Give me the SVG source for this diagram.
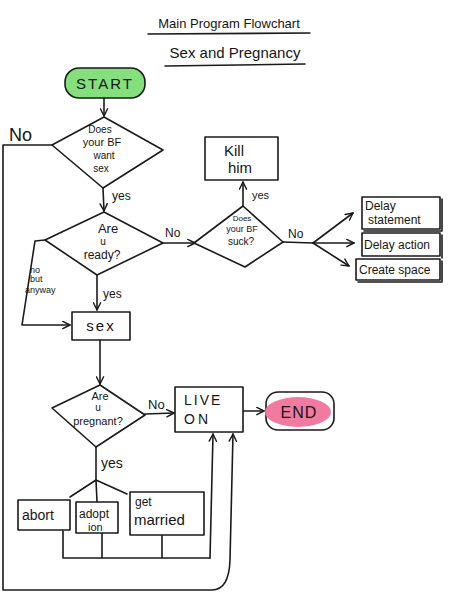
<svg xmlns="http://www.w3.org/2000/svg" width="449" height="606" viewBox="0 0 449 606">
<style>
  .ln { fill: none; stroke: #1a1a1a; stroke-width: 1.6; stroke-linejoin: round; stroke-linecap: round; }
  .box { fill: #ffffff; stroke: #1a1a1a; stroke-width: 1.6; stroke-linejoin: round; }
  .t { font-family: "Liberation Sans", "DejaVu Sans", sans-serif; fill: #151515; }
  .c { text-anchor: middle; }
</style>
<defs>
  <marker id="arr" viewBox="0 0 10 10" refX="9" refY="5" markerWidth="9" markerHeight="9" orient="auto-start-reverse" markerUnits="userSpaceOnUse">
    <path d="M1,1 L9,5 L1,9" fill="none" stroke="#1a1a1a" stroke-width="1.6" stroke-linecap="round" stroke-linejoin="round"/>
  </marker>
</defs>
<rect width="449" height="606" fill="#ffffff"/>

<g id="title">
  <text class="t c" x="229" y="28" font-size="13">Main Program Flowchart</text>
  <line class="ln" x1="148" y1="34" x2="310" y2="33"/>
  <text class="t c" x="235" y="58" font-size="15">Sex and Pregnancy</text>
  <line class="ln" x1="165" y1="66" x2="305" y2="64"/>
</g>

<g id="connectors">
  <line class="ln" x1="104" y1="98" x2="104" y2="116" marker-end="url(#arr)"/>
  <path class="ln" d="M52,145 L3,145 L3,590 L212,590 Q229,590 230,560 L233,434" marker-end="url(#arr)"/>
  <line class="ln" x1="103" y1="188" x2="104" y2="211" marker-end="url(#arr)"/>
  <line class="ln" x1="163" y1="243" x2="195" y2="243" marker-end="url(#arr)"/>
  <path class="ln" d="M45,240 L35,241 L22,325 L70,325" marker-end="url(#arr)"/>
  <line class="ln" x1="97" y1="275" x2="97" y2="310" marker-end="url(#arr)"/>
  <line class="ln" x1="100" y1="340" x2="100" y2="384" marker-end="url(#arr)"/>
  <line class="ln" x1="243" y1="206" x2="243" y2="182" marker-end="url(#arr)"/>
  <line class="ln" x1="283" y1="242" x2="313" y2="243"/>
  <line class="ln" x1="313" y1="243" x2="353" y2="213" marker-end="url(#arr)"/>
  <line class="ln" x1="313" y1="243" x2="354" y2="243" marker-end="url(#arr)"/>
  <line class="ln" x1="313" y1="243" x2="349" y2="266" marker-end="url(#arr)"/>
  <line class="ln" x1="145" y1="414" x2="174" y2="413" marker-end="url(#arr)"/>
  <line class="ln" x1="243" y1="411" x2="264" y2="411" marker-end="url(#arr)"/>
  <line class="ln" x1="96" y1="447" x2="96" y2="480"/>
  <path class="ln" d="M96,480 L70,497 M96,480 L97,502 M96,480 L127,494"/>
  <path class="ln" d="M63,531 L63,558 M102,533 L102,558 M162,535 L162,558 M63,558 L210,558"/>
  <path class="ln" d="M210,558 L213,434" marker-end="url(#arr)"/>
</g>

<g id="labels">
  <text class="t" x="9" y="141" font-size="18">No</text>
  <text class="t" x="112" y="200" font-size="12">yes</text>
  <text class="t" x="165" y="237" font-size="12">No</text>
  <text class="t" x="30" y="273" font-size="9">no</text>
  <text class="t" x="30" y="282" font-size="9">but</text>
  <text class="t" x="25" y="293" font-size="9">anyway</text>
  <text class="t" x="103" y="298" font-size="12">yes</text>
  <text class="t" x="252" y="199" font-size="11">yes</text>
  <text class="t" x="288" y="238" font-size="12">No</text>
  <text class="t" x="148" y="409" font-size="13">No</text>
  <text class="t" x="101" y="468" font-size="14">yes</text>
</g>

<g id="start">
  <rect x="65" y="68" width="80" height="30" rx="14" fill="#84e07c" stroke="#1a1a1a" stroke-width="1.6"/>
  <text class="t c" x="105" y="89" font-size="15" letter-spacing="2">START</text>
</g>

<g id="q-bf-want">
  <polygon class="box" points="104,117 163,150 103,188 52,145"/>
  <text class="t c" x="100" y="133" font-size="10">Does</text>
  <text class="t c" x="102" y="146" font-size="11">your BF</text>
  <text class="t c" x="104" y="159" font-size="10">want</text>
  <text class="t c" x="101" y="172" font-size="10">sex</text>
</g>

<g id="q-ready">
  <polygon class="box" points="104,212 163,243 97,275 45,240"/>
  <text class="t c" x="108" y="233" font-size="13">Are</text>
  <text class="t c" x="103" y="245" font-size="10">u</text>
  <text class="t c" x="102" y="259" font-size="12">ready?</text>
</g>

<g id="q-bf-suck">
  <polygon class="box" points="243,206 283,242 245,267 194,243"/>
  <text class="t c" x="242" y="221" font-size="8">Does</text>
  <text class="t c" x="242" y="232" font-size="9">your BF</text>
  <text class="t c" x="241" y="245" font-size="10">suck?</text>
</g>

<g id="kill-him">
  <rect class="box" x="205" y="137" width="73" height="43"/>
  <text class="t c" x="234" y="156" font-size="15">Kill</text>
  <text class="t c" x="240" y="173" font-size="15">him</text>
</g>

<g id="delay-statement">
  <rect class="box" x="362" y="197" width="78" height="32"/>
  <path class="ln" d="M442,199 L442,231 L364,231"/>
  <text class="t" x="365" y="210" font-size="12">Delay</text>
  <text class="t" x="368" y="224" font-size="12">statement</text>
</g>

<g id="delay-action">
  <rect class="box" x="362" y="233" width="78" height="23"/>
  <path class="ln" d="M442,235 L442,258"/>
  <text class="t" x="364" y="249" font-size="12">Delay action</text>
</g>

<g id="create-space">
  <rect class="box" x="356" y="259" width="84" height="21"/>
  <path class="ln" d="M442,261 L442,282 L358,282"/>
  <text class="t" x="359" y="274" font-size="12">Create space</text>
</g>

<g id="sex">
  <rect class="box" x="72" y="312" width="58" height="28"/>
  <text class="t c" x="101" y="331" font-size="15" letter-spacing="2">sex</text>
</g>

<g id="q-pregnant">
  <polygon class="box" points="100,385 145,415 96,447 52,408"/>
  <text class="t c" x="100" y="400" font-size="11">Are</text>
  <text class="t c" x="98" y="411" font-size="10">u</text>
  <text class="t c" x="98" y="425" font-size="11">pregnant?</text>
</g>

<g id="live-on">
  <rect class="box" x="175" y="387" width="68" height="45"/>
  <text class="t" x="184" y="405" font-size="14" letter-spacing="2">LIVE</text>
  <text class="t" x="184" y="424" font-size="14" letter-spacing="3">ON</text>
</g>

<g id="end">
  <rect x="266" y="392" width="68" height="38" rx="12" fill="#ffffff" stroke="#1a1a1a" stroke-width="1.6"/>
  <ellipse cx="298" cy="412" rx="33" ry="15" fill="#f27aa0"/>
  <text class="t c" x="299" y="418" font-size="16" letter-spacing="1">END</text>
</g>

<g id="abort">
  <rect class="box" x="18" y="500" width="52" height="30"/>
  <text class="t" x="22" y="520" font-size="14">abort</text>
</g>

<g id="adoption">
  <rect class="box" x="76" y="502" width="42" height="31"/>
  <text class="t" x="79" y="518" font-size="12">adopt</text>
  <text class="t" x="88" y="531" font-size="11">ion</text>
</g>

<g id="get-married">
  <rect class="box" x="130" y="492" width="74" height="43"/>
  <text class="t" x="135" y="506" font-size="12">get</text>
  <text class="t" x="134" y="525" font-size="15">married</text>
</g>
</svg>
